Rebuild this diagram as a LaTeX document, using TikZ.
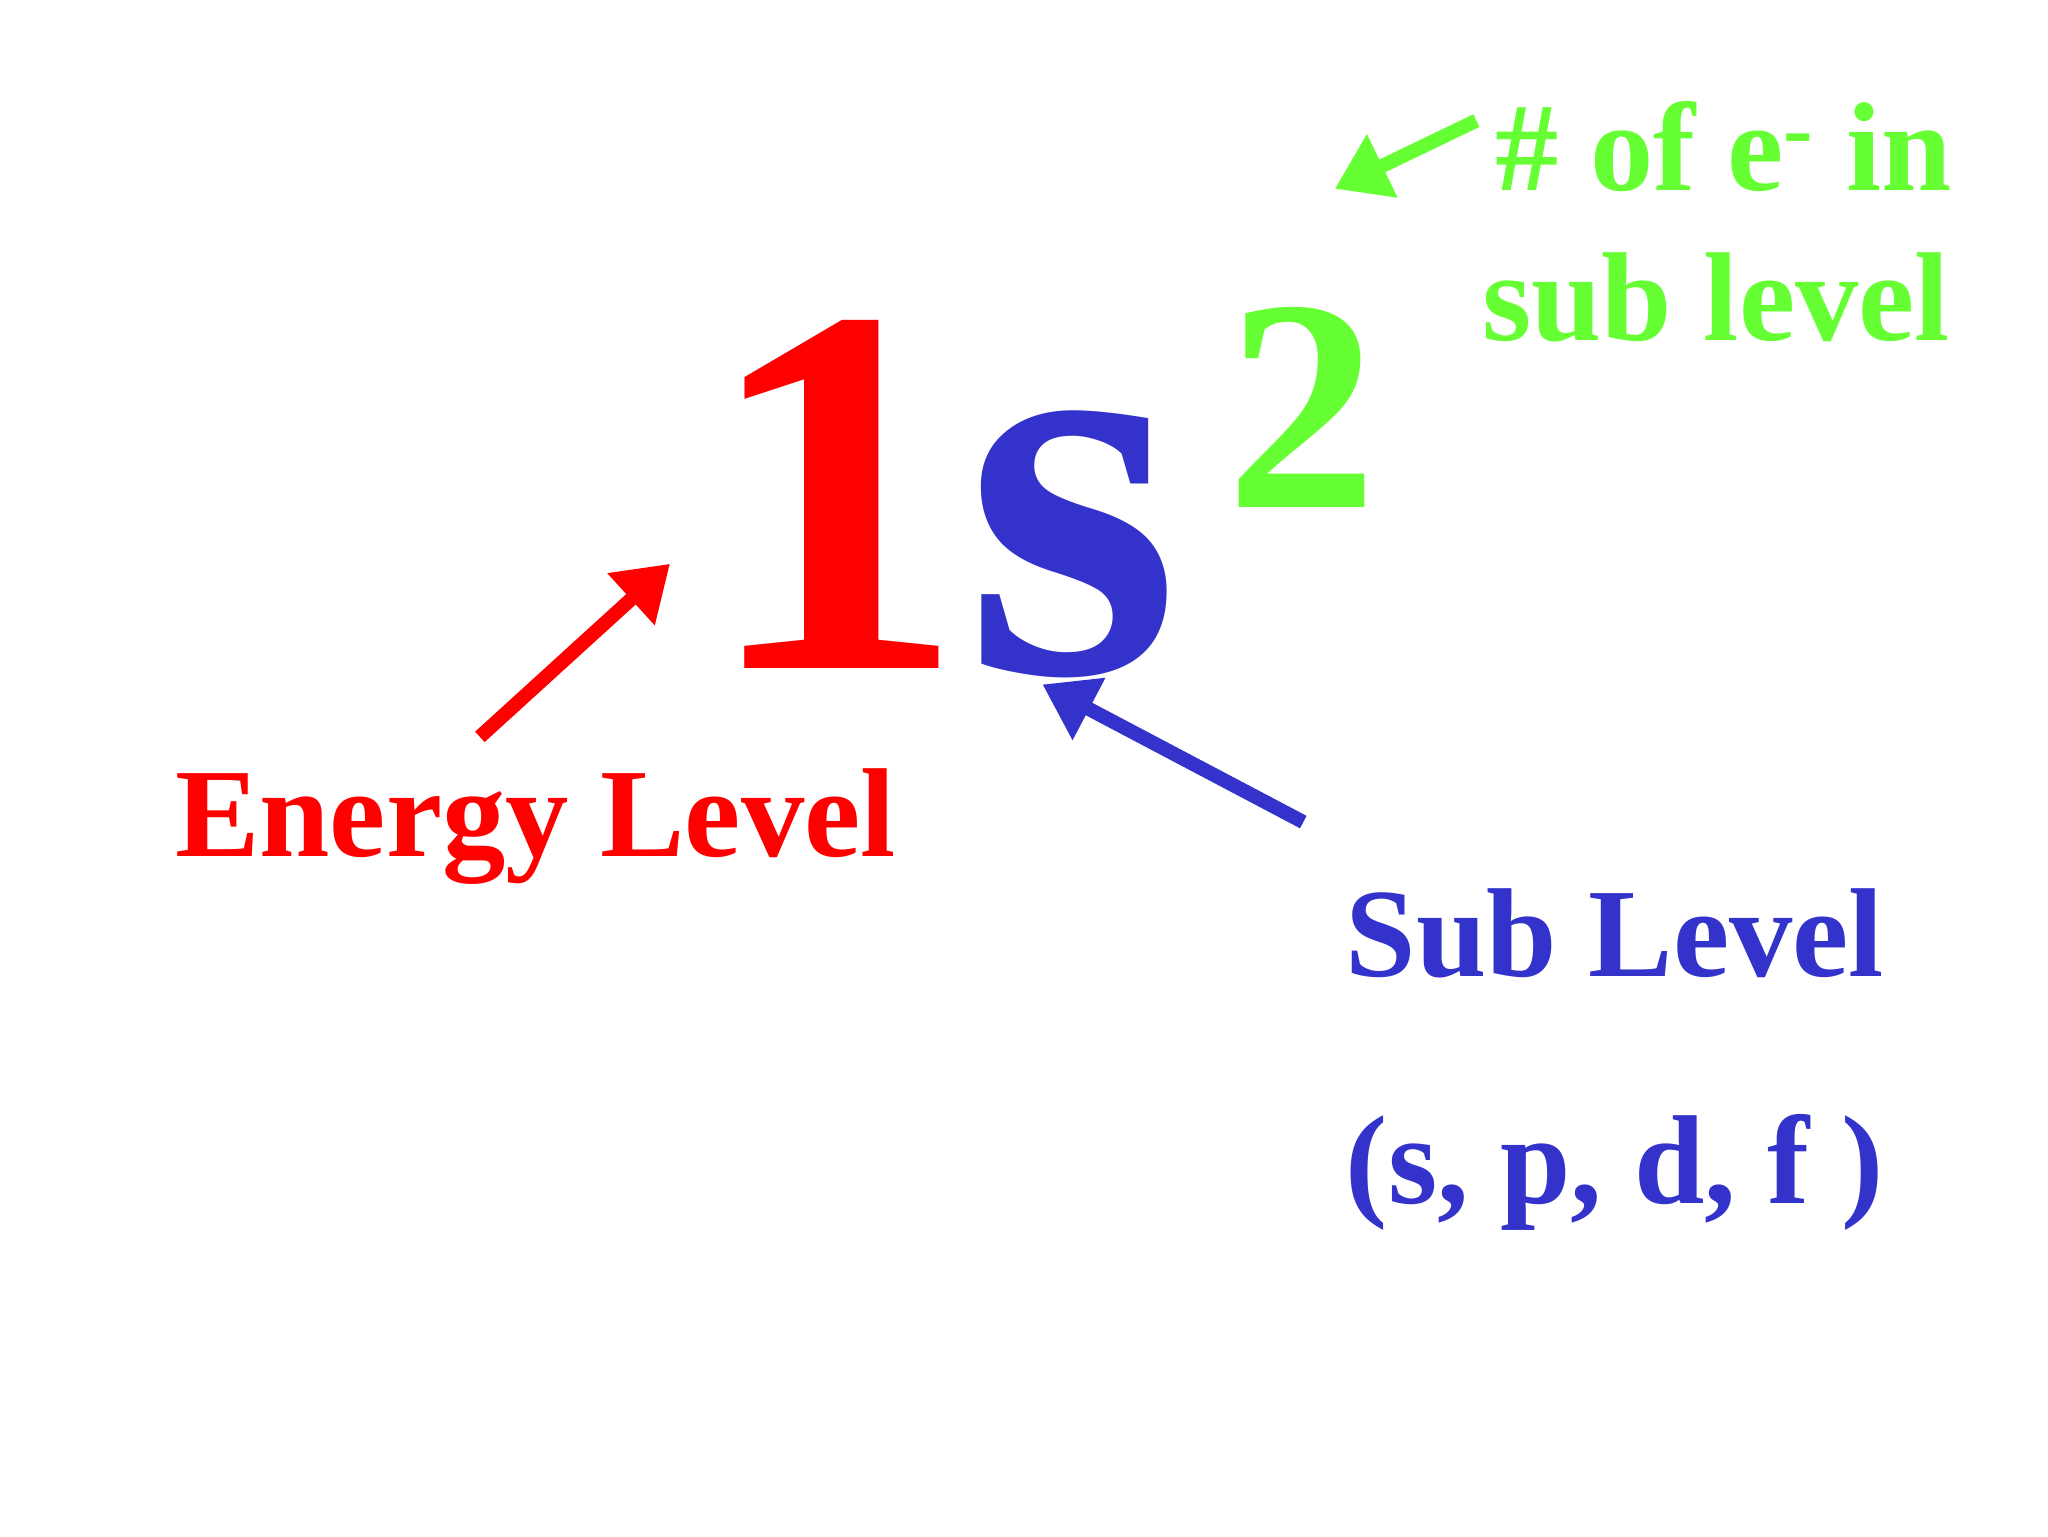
\documentclass[tikz,border=0pt]{standalone}
\usepackage{fontspec}
\setmainfont{Liberation Serif}
\usetikzlibrary{arrows.meta}
\definecolor{cred}{HTML}{FF0000}
\definecolor{cblue}{HTML}{3333CC}
\definecolor{cgreen}{HTML}{66FF33}
\begin{document}
\begin{tikzpicture}[x=0.01311cm,y=-0.01311cm,
  txt/.style={inner sep=0,anchor=base west,font=\bfseries\fontsize{36}{40}\selectfont},
  arr/.style={line width=4pt,-{Triangle[length=15pt,width=19pt]}}]
\useasboundingbox (0,0) rectangle (1562,1172);
\node[txt,cred,font=\bfseries\fontsize{150}{150}\selectfont] (one) at (535,510) {1};
\node[txt,cblue,font=\bfseries\fontsize{158}{158}\selectfont] (s) at (735,513) {s};
\node[txt,cgreen,font=\bfseries\fontsize{86}{86}\selectfont] (two) at (935,387) {2};
\node[txt,cgreen] (ne) at (1140,145) {\# of e\textsuperscript{-} in};
\node[txt,cgreen] (sl) at (1130,260) {sub level};
\node[txt,cred] (el) at (133,653) {Energy Level};
\node[txt,cblue] (sub) at (1026,745) {Sub Level};
\node[txt,cblue] (spdf) at (1026,918) {(s, p, d, f )};
\coordinate (r1) at (366,562); \coordinate (r2) at (511,430);
\coordinate (b1) at (994,627); \coordinate (b2) at (795,522);
\coordinate (g1) at (1126,92); \coordinate (g2) at (1018,144);
\draw[arr,cred] (r1) -- (r2);
\draw[arr,cblue] (b1) -- (b2);
\draw[arr,cgreen] (g1) -- (g2);
\end{tikzpicture}
\end{document}
